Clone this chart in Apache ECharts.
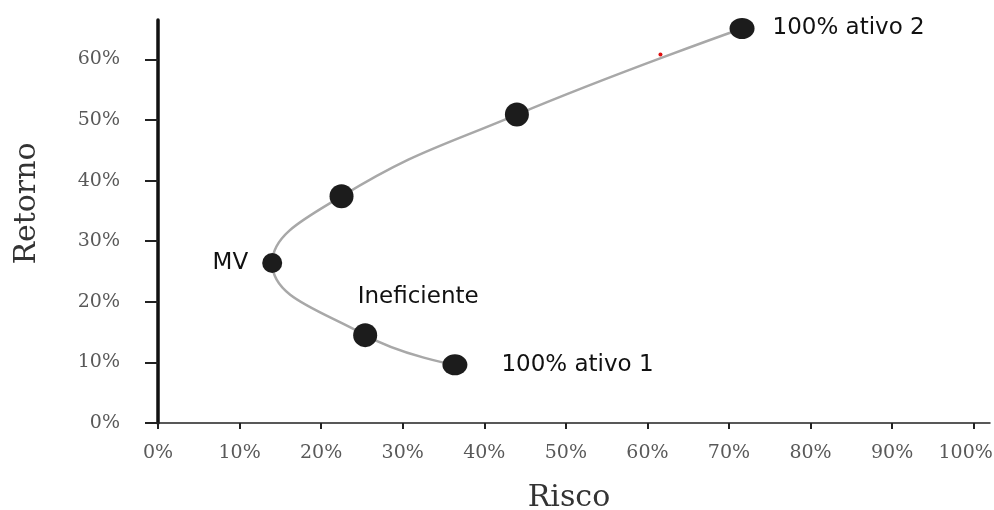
<!DOCTYPE html>
<html>
<head>
<meta charset="utf-8">
<script src="https://cdn.jsdelivr.net/npm/echarts@6/dist/echarts.min.js"></script>
<style>html,body{margin:0;padding:0;background:#fff}#c{width:994px;height:510px}</style>
</head>
<body>
<div id="c"></div>
<script>
// Data (percent)
const risco   = [36.4, 25.4, 14.0, 22.5, 44.0, 71.6];
const retorno = [9.6, 14.5, 26.4, 37.4, 50.9, 65.1];
const rotulos = ['100% ativo 1', 'Ineficiente', 'MV', '', '', '100% ativo 2'];
const xTicks = [0, 10, 20, 30, 40, 50, 60, 70, 80, 90, 100];
const yTicks = [0, 10, 20, 30, 40, 50, 60];
const pontoVermelho = [[61.6, 60.8]];

const pontos = risco.map((x, i) => [x, retorno[i]]);

const labelPos = {
  '100% ativo 1': { position: 'right', distance: 34 },
  'Ineficiente': { position: 'inside', offset: [53, -38] },
  'MV': { position: 'left', distance: 14 },
  '100% ativo 2': { position: 'right', distance: 18 }
};

const scatterData = pontos.map((p, i) => {
  const item = { value: p, name: rotulos[i] };
  if (rotulos[i]) {
    item.label = Object.assign({ show: true, formatter: '{b}' }, labelPos[rotulos[i]]);
  }
  return item;
});

const tickFont = { fontFamily: 'DejaVu Serif', fontSize: 19, color: '#595959' };

const chart = echarts.init(document.getElementById('c'), null, { renderer: 'canvas' });
chart.setOption({
  animation: false,
  backgroundColor: '#ffffff',
  grid: { left: 158, right: 4, top: 20, bottom: 87, containLabel: false, outerBoundsMode: 'none' },
  xAxis: {
    type: 'value', min: 0, max: 102,
    name: 'Risco', nameLocation: 'middle', nameGap: 60,
    nameTextStyle: { fontFamily: 'DejaVu Serif', fontSize: 30, color: '#333', padding: [0, 10, 0, 0] },
    axisLine: { show: true, lineStyle: { color: '#222', width: 1.5 } },
    axisTick: { show: true, customValues: xTicks, length: 6, lineStyle: { color: '#222', width: 2 } },
    axisLabel: Object.assign({ customValues: xTicks, margin: 21,
      formatter: v => (v === 100 ? '{m|100%}' : v + '%'),
      rich: { m: Object.assign({ padding: [0, 16, 0, 0] }, tickFont) } }, tickFont),
    splitLine: { show: false }
  },
  yAxis: {
    type: 'value', min: 0, max: 66.5,
    name: 'Retorno', nameLocation: 'middle', nameGap: 116, nameRotate: 90,
    nameTextStyle: { fontFamily: 'DejaVu Serif', fontSize: 30, color: '#333', padding: [0, 0, 0, 36] },
    axisLine: { show: true, lineStyle: { color: '#111', width: 3.5 } },
    axisTick: { show: true, customValues: yTicks, length: 13, lineStyle: { color: '#222', width: 2 } },
    axisLabel: Object.assign({ customValues: yTicks, margin: 38, formatter: v => v + '%' }, tickFont),
    splitLine: { show: false }
  },
  series: [
    {
      type: 'line', data: pontos, smooth: 0.45, symbol: 'none',
      lineStyle: { color: '#a8a8a8', width: 2.5 }, z: 1
    },
    {
      type: 'scatter', data: scatterData,
      symbolSize: (v, p) => (p.dataIndex === 2 ? 20 : (p.dataIndex === 0 || p.dataIndex === 5 ? [25, 21] : 24)),
      itemStyle: { color: '#1c1c1c', opacity: 1 },
      label: { fontFamily: 'DejaVu Sans', fontSize: 23, color: '#111' },
      z: 3
    },
    {
      type: 'scatter', data: pontoVermelho, symbolSize: 4,
      itemStyle: { color: '#e01010', opacity: 1 }, z: 2
    }
  ]
});
</script>
</body>
</html>
